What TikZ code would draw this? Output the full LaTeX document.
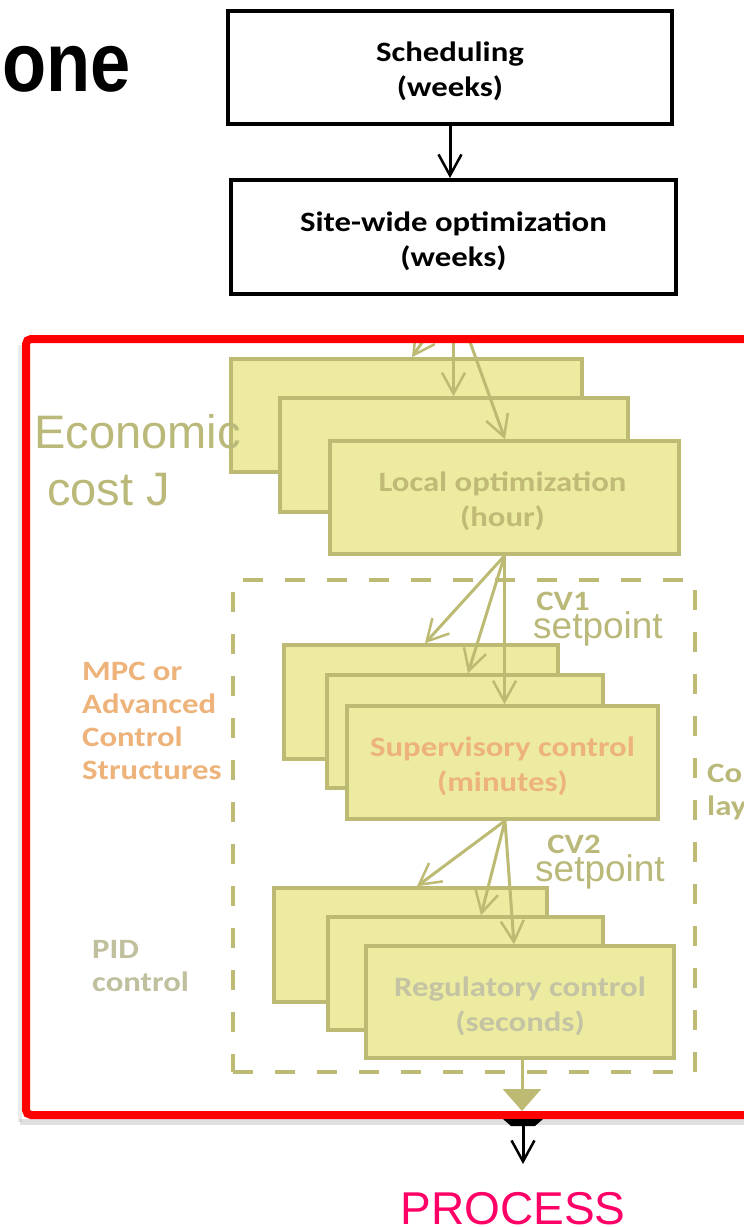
\documentclass[tikz,border=0pt]{standalone}
\usepackage{fontspec}
\usepackage{graphicx}
\setmainfont{Liberation Sans}
\newfontfamily\cfont{Carlito}[FakeStretch=1.17]
\usetikzlibrary{arrows.meta,calc}

\newcommand\bxfont{\cfont\bfseries\fontsize{28}{35}\selectfont}
\newcommand\sidefont{\cfont\bfseries\fontsize{28}{33}\selectfont}

\definecolor{tintY}{RGB}{236,235,160}
\definecolor{oliveL}{RGB}{189,187,115}
\definecolor{grayT}{RGB}{186,185,122}
\definecolor{locT}{RGB}{192,186,118}
\definecolor{orangeT}{RGB}{237,179,122}
\definecolor{regT}{RGB}{196,195,163}
\definecolor{pidT}{RGB}{192,191,158}
\definecolor{procT}{RGB}{255,0,102}
\definecolor{frameR}{RGB}{255,0,0}

\pgfdeclarelayer{under}
\pgfdeclarelayer{tint}
\pgfdeclarelayer{frame}
\pgfsetlayers{under,tint,main,frame}

\begin{document}
\begin{tikzpicture}[x=1pt,y=-1pt,
  bbox/.style={draw=black, line width=4pt, fill=white, inner sep=0pt},
  obox/.style={draw=oliveL, line width=3.5pt, fill=tintY, inner sep=0pt},
  boxlabel/.style={inner sep=0pt, align=center, font=\bxfont},
  barb/.style={line width=3pt, -{Straight Barb[length=21pt,width=23pt,line width=2.5pt]}},
  blkarrow/.style={barb, draw=black},
  oarrow/.style={barb, draw=oliveL},
  sidetext/.style={inner sep=0pt, align=left, font=\sidefont},
  bigsans/.style={inner sep=0pt, text=grayT, font=\fontsize{37}{37}\selectfont}]

\useasboundingbox (0,0) rectangle (744,1227);
\fill[white] (0,0) rectangle (744,1227);

% title fragment
\node[anchor=base west, inner sep=0pt, font=\bfseries\fontsize{84}{84}\selectfont] (ttl) at (2,91) {\scalebox{0.86}[1]{one}};

% upper planning boxes
\node[bbox, minimum width=444pt, minimum height=113pt] (sched) at (450,67) {};
\node[boxlabel] (schedT) at ($(sched.center)+(0,4)$) {Scheduling\\(weeks)};
\node[bbox, minimum width=445pt, minimum height=114pt] (site) at (453.5,237) {};
\node[boxlabel] (siteT) at ($(site.center)+(0,4)$) {Site-wide optimization\\(weeks)};
\draw[blkarrow] (sched.south) -- (sched.south |- site.north);

% control layer contents
\node[draw=oliveL, line width=3.5pt, dash pattern=on 20pt off 22pt, minimum width=462pt, minimum height=492pt, inner sep=0pt] (ctrl) at (464,826) {};

\node[obox, minimum width=351pt, minimum height=113pt] (locA) at (406.5,415.5) {};
\node[obox, minimum width=348pt, minimum height=114pt] (locB) at (454,455) {};
\node[obox, minimum width=349pt, minimum height=113pt] (locC) at (504.5,497.5) {};
\node[boxlabel, text=locT] (locT) at ($(locC.center)+(-2,4)$) {Local optimization\\(hour)};

\node[obox, minimum width=274pt, minimum height=114pt] (supA) at (421,702) {};
\node[obox, minimum width=276pt, minimum height=113pt] (supB) at (465,731.5) {};
\node[obox, minimum width=311pt, minimum height=113pt] (supC) at (502.5,762.5) {};
\node[boxlabel, text=orangeT] (supT) at ($(supC.center)+(0,4)$) {Supervisory control\\(minutes)};

\node[obox, minimum width=273pt, minimum height=114pt] (regA) at (410.5,945) {};
\node[obox, minimum width=275pt, minimum height=113pt] (regB) at (465.5,973.5) {};
\node[obox, minimum width=308pt, minimum height=112pt] (regC) at (520,1002) {};
\node[boxlabel, text=regT] (regT) at ($(regC.center)+(0,4)$) {Regulatory control\\(seconds)};

% setpoints passed down the hierarchy
\begin{scope}
  \clip (26,339) rectangle (760,1115);
  \draw[oarrow] (site.south) -- ([xshift=5.5pt]locA.north);
  \draw[oarrow] (site.south) -- (site.south |- locB.north);
  \draw[oarrow] (site.south) -- ([xshift=0.5pt]locC.north);
\end{scope}
\begin{pgfonlayer}{under}
  \draw[blkarrow] (site.south) -- ([xshift=5.5pt]locA.north);
  \draw[blkarrow] (site.south) -- (site.south |- locB.north);
  \draw[blkarrow] (site.south) -- ([xshift=0.5pt]locC.north);
\end{pgfonlayer}

\draw[oarrow] (locC.south) -- ([xshift=4pt]supA.north);
\draw[oarrow] (locC.south) -- ([xshift=3pt]supB.north);
\draw[oarrow] (locC.south) -- (locC.south |- supC.north);

\draw[oarrow] ([xshift=2.5pt]supC.south) -- ([xshift=6.5pt]regA.north);
\draw[oarrow] ([xshift=2.5pt]supC.south) -- ([xshift=15.5pt]regB.north);
\draw[oarrow] ([xshift=2.5pt]supC.south) -- ([xshift=-6pt]regC.north);

\coordinate (procIn) at (522,1111);
\draw[draw=oliveL, line width=3pt, -{Triangle[length=22pt,width=38pt]}] ([xshift=2pt]regC.south) -- (procIn);

% labels
\node[anchor=base west, inner sep=0pt, text=grayT, font=\fontsize{47}{47}\selectfont] (econ1) at (34,448) {Economic};
\node[anchor=base west, inner sep=0pt, text=grayT, font=\fontsize{47}{47}\selectfont] (econ2) at (47,505) {cost J};

\node[sidetext, anchor=north west, text=orangeT] (mpc) at (82,662) {MPC or\\Advanced\\Control\\Structures};
\node[sidetext, anchor=north west, text=pidT] (pid) at (92,940) {PID\\control};
\node[sidetext, anchor=north west, text=grayT] (layer) at (707,763) {Control\\layer};

\node[anchor=base, inner sep=0pt, text=grayT, font=\bxfont] (cv1) at (563,610) {CV1};
\node[bigsans, anchor=base west] (sp1) at (533,638) {setpoint};
\node[anchor=base, inner sep=0pt, text=grayT, font=\bxfont] (cv2) at (574,853) {CV2};
\node[bigsans, anchor=base west] (sp2) at (535,881) {setpoint};

% yellow tint over the control hierarchy
\begin{pgfonlayer}{tint}
  \fill[tintY] (26,339) rectangle (760,1115);
\end{pgfonlayer}

% frame, its shadow and the link to the process
\begin{pgfonlayer}{frame}
  \fill[black, opacity=0.12] (20,1119) rectangle (744,1125);
  \fill[black, opacity=0.08] (18,345) rectangle (22,1122);
  \draw[frameR, line width=8pt, rounded corners=5pt] (26,339) rectangle (790,1115);
  \coordinate (outA) at (523,1119);
  \coordinate (outB) at (523,1164);
  \fill[black] (503,1119) -- (543,1119) -- (535,1126) -- (511,1126) -- cycle;
  \draw[blkarrow] (outA) -- (outB);
\end{pgfonlayer}

\node[anchor=base, inner sep=0pt, text=procT, font=\fontsize{46}{46}\selectfont] (proc) at (513,1224) {PROCESS};

\end{tikzpicture}
\end{document}
